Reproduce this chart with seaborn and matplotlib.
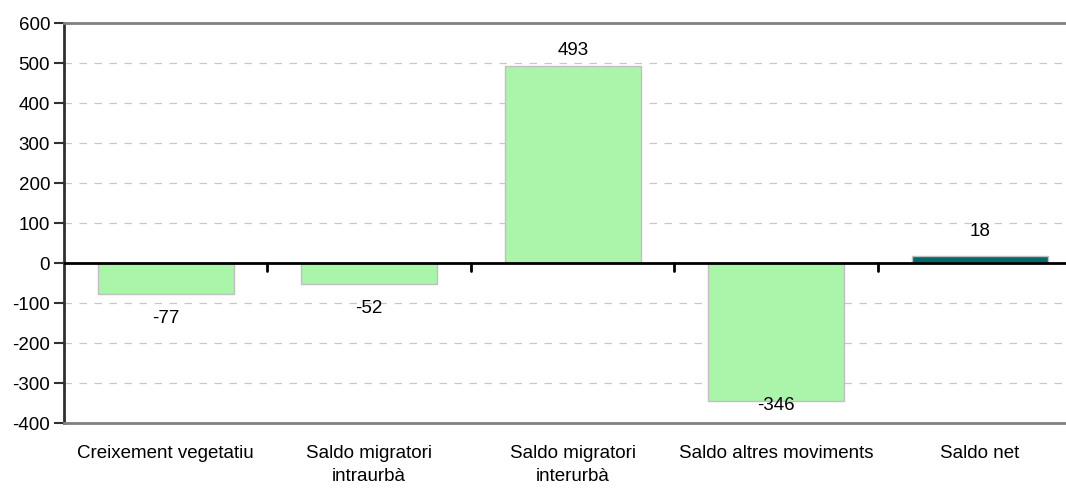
import matplotlib
matplotlib.use('Agg')
import matplotlib.pyplot as plt
import seaborn as sns
import pandas as pd

#------Data

categories = ['Creixement vegetatiu', 'Saldo migratori\nintraurbà', 'Saldo migratori\ninterurbà',
              'Saldo altres moviments', 'Saldo net']
values = [-77, -52, 493, -346, 18]
bar_colors = ['#aaf5aa', '#aaf5aa', '#aaf5aa', '#aaf5aa', '#006b6b']

#-------Settings

sns.set_theme(style="white")
plt.rcParams['font.family'] = ['Liberation Sans', 'DejaVu Sans']
plt.rcParams['axes.unicode_minus'] = False
fs = 13.5

df = pd.DataFrame({'cat': categories, 'val': values})

fig = plt.figure(figsize=(10.66, 4.88), dpi=100)
ax = fig.add_axes([64 / 1066, 1 - 423 / 488, 1002 / 1066, 400 / 488])

sns.barplot(data=df, x='cat', y='val', hue='cat', palette=bar_colors, legend=False,
            width=0.67, edgecolor='#c0c0c0', linewidth=1, saturation=1, ax=ax)

ax.set_xlim(-0.5, 4.424)
ax.set_ylim(-400, 600)
ax.set_yticks(range(-400, 601, 100))
ax.set_xlabel('')
ax.set_ylabel('')

for y in range(-300, 600, 100):
    if y != 0:
        ax.axhline(y, color='#c8c8c8', linestyle=(0, (6, 6)), linewidth=0.9, zorder=0)
ax.axhline(0, color='black', linewidth=2, zorder=3)

# small ticks on the zero line between categories
for b in [0.5, 1.5, 2.5, 3.5]:
    ax.plot([b, b], [0, -20], color='black', linewidth=2, zorder=3)

for sp in ['top', 'bottom']:
    ax.spines[sp].set_color('#808080')
    ax.spines[sp].set_linewidth(2)
ax.spines['right'].set_visible(False)
ax.spines['left'].set_color('#303030')
ax.spines['left'].set_linewidth(2)

ax.tick_params(axis='y', left=True, length=7, width=1.5, color='#303030', labelsize=fs,
               labelcolor='black', pad=3)
ax.tick_params(axis='x', bottom=False, labelsize=fs, labelcolor='black', pad=10)
for lbl in ax.get_xticklabels():
    lbl.set_linespacing(1.45)

for i, v in enumerate(values):
    if v >= 0:
        ypos = min(v + 60, 532)
    else:
        ypos = max(v - 62, -355)
    ax.text(i, ypos, f'{v}', ha='center', va='center', fontsize=fs, color='black')

plt.savefig('out.png', dpi=100)
plt.close()
